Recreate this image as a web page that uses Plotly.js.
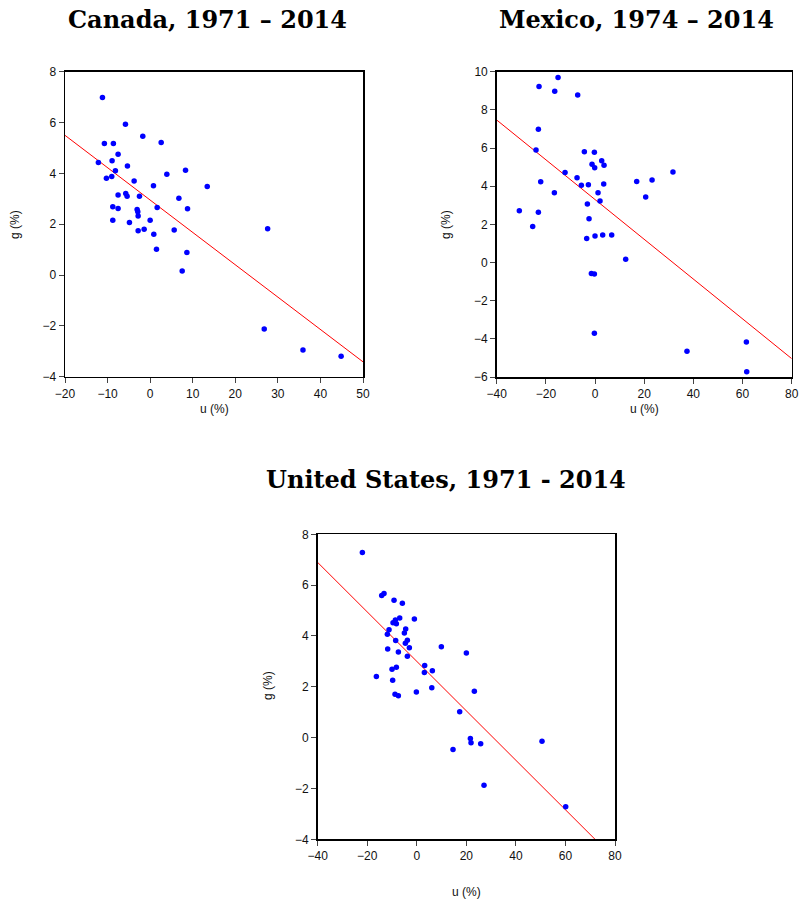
<!DOCTYPE html>
<html>
<head>
<meta charset="utf-8">
<script src="https://cdn.plot.ly/plotly-3.0.1.min.js"></script>
<style>html,body{margin:0;padding:0;background:#fff;}#chart{width:800px;height:902px;}</style>
</head>
<body>
<div id="chart"></div>
<script>
// ---- Data ----
const canadaU = [-11.2,-5.8,-1.73,-10.75,-8.63,2.59,-7.53,-8.94,-12.16,-5.33,-8.16,8.31,3.92,-9.02,-10.27,-3.76,0.78,13.41,-5.73,-7.53,-5.41,-2.51,6.75,-8.78,-7.53,1.65,8.78,-3.06,-2.9,-2.82,-8.78,-4.86,0.0,-2.82,-1.41,0.86,5.65,27.6,1.49,8.63,7.53,26.8,35.9,44.86];
const canadaG = [6.98,5.93,5.46,5.18,5.18,5.21,4.75,4.50,4.43,4.29,4.10,4.12,3.97,3.88,3.81,3.70,3.51,3.48,3.21,3.15,3.10,3.10,3.02,2.69,2.62,2.66,2.61,2.58,2.49,2.32,2.16,2.07,2.16,1.74,1.80,1.60,1.77,1.82,1.01,0.89,0.16,-2.12,-2.95,-3.20];

const mexicoU = [-15.05,-22.78,-16.4,-7.05,-23.05,-24.0,-4.34,-0.27,2.71,-1.22,3.66,-0.14,-12.2,31.7,-7.32,23.2,16.95,-22.1,-5.56,-2.71,3.53,-16.54,1.22,20.6,2.03,-3.12,-30.8,-23.05,-2.44,-25.36,-3.39,0.0,3.12,6.78,12.47,-1.49,-0.27,-0.27,37.4,61.56,61.7];
const mexicoG = [9.70,9.23,8.97,8.78,6.98,5.90,5.80,5.78,5.33,5.15,5.10,4.96,4.72,4.75,4.44,4.33,4.25,4.23,4.05,4.07,4.11,3.65,3.65,3.43,3.23,3.06,2.71,2.64,2.29,1.89,1.26,1.39,1.44,1.44,0.17,-0.58,-0.60,-3.71,-4.65,-4.16,-5.73];

const usU = [-21.97,-14.17,-13.23,-9.19,-5.83,-6.9,-0.98,-8.65,-9.6,-8.25,-4.48,-11.21,-5.02,-11.88,-3.81,-8.52,-4.62,9.91,-3.0,-11.75,-7.44,20.0,-3.81,3.19,-8.25,-10.0,3.05,6.28,-16.32,-9.74,6.05,-8.79,-7.44,-0.18,23.23,17.31,21.62,21.89,25.79,14.62,50.54,27.13,60.1];
const usG = [7.28,5.59,5.67,5.41,5.29,4.71,4.67,4.63,4.52,4.48,4.27,4.24,4.12,4.07,3.83,3.82,3.71,3.58,3.54,3.49,3.37,3.33,3.20,2.84,2.77,2.69,2.56,2.63,2.41,2.26,1.96,1.71,1.65,1.80,1.82,1.02,-0.03,-0.20,-0.24,-0.47,-0.14,-1.87,-2.72];

// fitted lines: [intercept, slope]
const canadaFit = [2.95, -0.1273];
const mexicoFit = [3.30, -0.1042];
const usFit = [3.00, -0.0973];

// axis ranges
const canadaXRange = [-20, 50], canadaYRange = [-4, 8];
const mexicoXRange = [-40, 80], mexicoYRange = [-6, 10];
const usXRange = [-40, 80], usYRange = [-4, 8];

const titles = ["Canada, 1971 – 2014", "Mexico, 1974 – 2014", "United States, 1971 - 2014"];
const xLabel = "u (%)", yLabel = "g (%)";

function fitLine(fit, range, xa, ya) {
  return {
    x: range, y: range.map(u => fit[0] + fit[1] * u),
    xaxis: xa, yaxis: ya, mode: 'lines', type: 'scatter',
    line: {color: '#ff0000', width: 1}, hoverinfo: 'skip', showlegend: false
  };
}
function pts(u, g, xa, ya) {
  return {
    x: u, y: g, xaxis: xa, yaxis: ya, mode: 'markers', type: 'scatter',
    marker: {color: '#0000ff', size: 5.5}, showlegend: false
  };
}

const data = [
  fitLine(canadaFit, canadaXRange, 'x', 'y'), pts(canadaU, canadaG, 'x', 'y'),
  fitLine(mexicoFit, mexicoXRange, 'x2', 'y2'), pts(mexicoU, mexicoG, 'x2', 'y2'),
  fitLine(usFit, usXRange, 'x3', 'y3'), pts(usU, usG, 'x3', 'y3')
];

const W = 800, H = 902;
const tickFont = {family: 'Liberation Sans, Arial, sans-serif', size: 12, color: '#111'};
function ax(dom, range, dtick, anchor) {
  return {
    domain: dom, range: range, dtick: dtick, tick0: 0, anchor: anchor,
    showgrid: false, zeroline: false, showline: true, mirror: true,
    linecolor: '#000', linewidth: 1.5, ticks: 'outside', ticklen: 5, tickwidth: 1,
    tickcolor: '#444', tickfont: tickFont, fixedrange: true
  };
}
const px = v => v / W, py = v => 1 - v / H;

const layout = {
  width: W, height: H, margin: {l: 0, r: 0, t: 0, b: 0},
  paper_bgcolor: '#fff', plot_bgcolor: '#fff', showlegend: false,
  xaxis: ax([px(65), px(363)], canadaXRange, 10, 'y'),
  yaxis: ax([py(376.7), py(71.7)], canadaYRange, 2, 'x'),
  xaxis2: ax([px(496.7), px(791.7)], mexicoXRange, 20, 'y2'),
  yaxis2: ax([py(377), py(71.7)], mexicoYRange, 2, 'x2'),
  xaxis3: ax([px(317.7), px(615)], usXRange, 20, 'y3'),
  yaxis3: ax([py(839.3), py(534.3)], usYRange, 2, 'x3'),
  annotations: []
};

const titleFont = {family: 'DejaVu Serif, Liberation Serif, serif', size: 24, color: '#000'};
const lblFont = {family: 'Liberation Sans, Arial, sans-serif', size: 12, color: '#111'};
function addText(text, x, y, font, angle) {
  layout.annotations.push({text: text, x: px(x), y: py(y), xref: 'paper', yref: 'paper',
    xanchor: 'center', yanchor: 'middle', showarrow: false, font: font, textangle: angle || 0});
}
addText('<b>' + titles[0] + '</b>', 207.5, 19, titleFont);
addText('<b>' + titles[1] + '</b>', 636, 19, titleFont);
addText('<b>' + titles[2] + '</b>', 446, 480, titleFont);
addText(xLabel, 214, 409, lblFont);
addText(xLabel, 644, 409, lblFont);
addText(xLabel, 466, 892, lblFont);
addText(yLabel, 15, 225, lblFont, -90);
addText(yLabel, 446, 225, lblFont, -90);
addText(yLabel, 268, 686, lblFont, -90);

Plotly.newPlot('chart', data, layout, {staticPlot: true, displayModeBar: false});
</script>
</body>
</html>
